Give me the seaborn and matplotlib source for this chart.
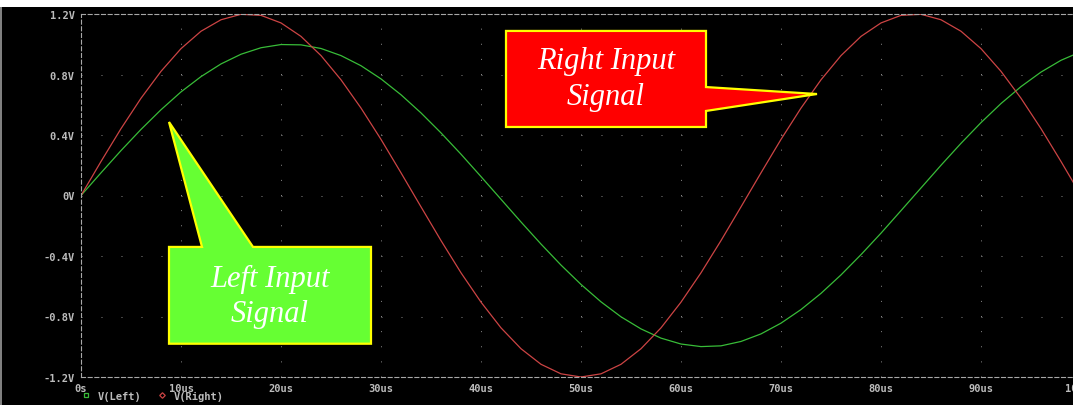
import matplotlib
matplotlib.use("Agg")
import pandas as pd
import matplotlib.pyplot as plt
import seaborn as sns
from matplotlib.patches import Polygon, Rectangle
from matplotlib.lines import Line2D

TIME_US = list(range(0, 101, 2))
V_LEFT = [0.000, 0.150, 0.297, 0.437, 0.567, 0.685, 0.786, 0.870, 0.934, 0.977,
          0.998, 0.996, 0.972, 0.925, 0.858, 0.771, 0.666, 0.546, 0.414, 0.273,
          0.125, -0.025, -0.175, -0.321, -0.460, -0.588, -0.703, -0.802, -0.882, -0.943,
          -0.982, -0.999, -0.994, -0.965, -0.915, -0.844, -0.754, -0.647, -0.525, -0.391,
          -0.249, -0.100, 0.050, 0.200, 0.345, 0.482, 0.608, 0.720, 0.816, 0.894,
          0.951]
V_RIGHT = [0.000, 0.225, 0.442, 0.643, 0.821, 0.971, 1.086, 1.162, 1.198, 1.191,
           1.141, 1.052, 0.925, 0.765, 0.578, 0.371, 0.150, -0.075, -0.298, -0.511,
           -0.705, -0.875, -1.013, -1.116, -1.179, -1.200, -1.179, -1.116, -1.013, -0.875,
           -0.705, -0.511, -0.298, -0.075, 0.150, 0.371, 0.578, 0.765, 0.925, 1.052,
           1.141, 1.191, 1.198, 1.162, 1.086, 0.971, 0.821, 0.643, 0.442, 0.225,
           0.000]
SERIES = ["V(Left)", "V(Right)"]
X_TICKS = [0, 10, 20, 30, 40, 50, 60, 70, 80, 90, 100]
X_LABELS = ["0s", "10us", "20us", "30us", "40us", "50us", "60us", "70us", "80us", "90us", "100us"]
Y_TICKS = [-1.2, -0.8, -0.4, 0.0, 0.4, 0.8, 1.2]
Y_LABELS = ["-1.2V", "-0.8V", "-0.4V", "0V", "0.4V", "0.8V", "1.2V"]

GREEN = "#38bc38"
RED = "#cc4444"
AXIS_GRAY = "#a8a8a8"
TXT_GRAY = "#bcbcbc"

sns.set_style("dark", rc={"axes.facecolor": "black", "figure.facecolor": "black"})
plt.rcParams["lines.scale_dashes"] = False

df = pd.DataFrame({
    "time": TIME_US * 2,
    "volt": V_LEFT + V_RIGHT,
    "signal": [SERIES[0]] * len(TIME_US) + [SERIES[1]] * len(TIME_US),
})

W, H = 1073, 406
fig = plt.figure(figsize=(W / 100, H / 100), dpi=100)
fig.patch.set_facecolor("black")
ax = fig.add_axes([81 / W, 28 / H, 1000 / W, 363 / H])
ax.set_facecolor("black")

sns.lineplot(data=df, x="time", y="volt", hue="signal",
             palette={SERIES[0]: GREEN, SERIES[1]: RED},
             linewidth=0.9, legend=False, ax=ax)

ax.set_xlim(0, 100)
ax.set_ylim(-1.2, 1.2)
ax.set_xticks(X_TICKS)
ax.set_xticklabels(X_LABELS)
ax.set_yticks(Y_TICKS)
ax.set_yticklabels(Y_LABELS)
ax.set_xlabel("")
ax.set_ylabel("")

MONO = "DejaVu Sans Mono"
FS = 7.5
for lab in ax.get_xticklabels() + ax.get_yticklabels():
    lab.set_fontfamily(MONO)
    lab.set_fontsize(FS)
    lab.set_fontweight("bold")
    lab.set_color(TXT_GRAY)
ax.tick_params(axis="both", colors=AXIS_GRAY, direction="inout", length=5, width=0.8,
               labelcolor=TXT_GRAY)
ax.tick_params(axis="x", pad=1.5)
ax.tick_params(axis="y", pad=2)

# dotted grid like the scope screen
ax.grid(False)
for xv in X_TICKS[1:-1]:
    ax.axvline(xv, color="#8c8c8c", linewidth=0.7, linestyle=(0, (0.7, 10.19)), zorder=0)
for yv in Y_TICKS[1:-1]:
    ax.axhline(yv, color="#8c8c8c", linewidth=0.7, linestyle=(0, (0.7, 13.7)), zorder=0)

for side in ["top", "bottom", "left"]:
    ax.spines[side].set_visible(True)
    ax.spines[side].set_color(AXIS_GRAY)
    ax.spines[side].set_linewidth(0.8)
    ax.spines[side].set_linestyle((0, (2.9, 1.9)))
ax.spines["right"].set_visible(False)

# callouts
left_shape = [(8.8, -0.34), (12.1, -0.34), (8.8, 0.486), (17.2, -0.34), (29.0, -0.34),
              (29.0, -0.98), (8.8, -0.98)]
ax.add_patch(Polygon(left_shape, closed=True, facecolor="#66ff33", edgecolor="#ffff00",
                     linewidth=1.6, joinstyle="miter", zorder=5))
ax.text(18.9, -0.665, "Left Input\nSignal", color="white", ha="center", va="center",
        fontsize=22, fontstyle="italic", family="Liberation Serif", linespacing=1.3, zorder=6)

right_shape = [(42.5, 1.088), (62.5, 1.088), (62.5, 0.717), (73.6, 0.671), (62.5, 0.559),
               (62.5, 0.453), (42.5, 0.453)]
ax.add_patch(Polygon(right_shape, closed=True, facecolor="#ff0000", edgecolor="#ffff00",
                     linewidth=1.6, joinstyle="miter", zorder=5))
ax.text(52.5, 0.775, "Right Input\nSignal", color="white", ha="center", va="center",
        fontsize=22, fontstyle="italic", family="Liberation Serif", linespacing=1.3, zorder=6)

# legend row at the bottom
handles = [Line2D([], [], linestyle="none", marker="s", markersize=3.2, markerfacecolor="none",
                  markeredgecolor=GREEN, markeredgewidth=0.9),
           Line2D([], [], linestyle="none", marker="D", markersize=2.8, markerfacecolor="none",
                  markeredgecolor=RED, markeredgewidth=0.9)]
leg = fig.legend(handles, SERIES, loc="center left", bbox_to_anchor=(82 / W, 9.5 / H), ncol=2,
                 frameon=False, handlelength=0.8, handletextpad=0.7, columnspacing=1.6,
                 prop={"family": MONO, "size": FS, "weight": "bold"},
                 borderaxespad=0, borderpad=0)
for t in leg.get_texts():
    t.set_color(TXT_GRAY)

fig.text(575 / W, -5 / H, "Time", color=TXT_GRAY, ha="center", va="center",
         family=MONO, fontsize=FS, fontweight="bold")

# white strip at the top and thin frame line at the left of the screenshot
fig.add_artist(Rectangle((0, 1 - 8 / H), 1, 8 / H, transform=fig.transFigure,
                         facecolor="white", edgecolor="none", zorder=10))
fig.add_artist(Rectangle((0, 0), 2 / W, 1 - 8 / H, transform=fig.transFigure,
                         facecolor="#808080", edgecolor="none", zorder=10))

fig.savefig("out.png", dpi=100, facecolor="black")
